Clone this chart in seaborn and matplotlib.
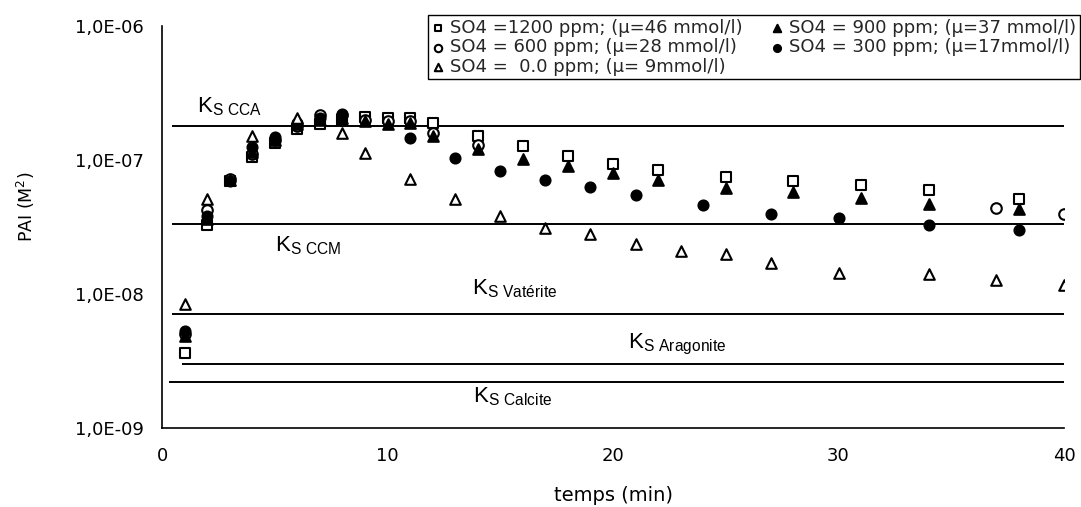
import numpy as np
import pandas as pd
import seaborn as sns
import matplotlib
matplotlib.use("Agg")
import matplotlib.pyplot as plt
from matplotlib.ticker import FixedLocator, FuncFormatter, LogLocator, NullFormatter

# ---------------- data ----------------
t_1200 = [1, 2, 3, 4, 5, 6, 7, 8, 9, 10, 11, 12, 14, 16, 18, 20, 22, 25, 28, 31, 34, 38]
v_1200 = [3.6e-9, 3.3e-8, 7.0e-8, 1.05e-7, 1.35e-7, 1.7e-7, 1.85e-7, 2.0e-7, 2.1e-7, 2.05e-7,
          2.05e-7, 1.9e-7, 1.5e-7, 1.27e-7, 1.07e-7, 9.3e-8, 8.4e-8, 7.5e-8, 7.0e-8, 6.5e-8,
          6.0e-8, 5.1e-8]

t_900 = [1, 2, 3, 4, 5, 6, 7, 8, 9, 10, 11, 12, 14, 16, 18, 20, 22, 25, 28, 31, 34, 38]
v_900 = [4.9e-9, 3.6e-8, 7.1e-8, 1.15e-7, 1.4e-7, 1.85e-7, 2.0e-7, 2.05e-7, 1.95e-7, 1.85e-7,
         1.9e-7, 1.5e-7, 1.2e-7, 1.02e-7, 9.0e-8, 8.0e-8, 7.1e-8, 6.2e-8, 5.8e-8, 5.2e-8,
         4.7e-8, 4.3e-8]

t_600 = [1, 2, 3, 4, 5, 6, 7, 8, 9, 10, 11, 12, 14, 37, 40]
v_600 = [5.0e-9, 4.2e-8, 7.2e-8, 1.1e-7, 1.42e-7, 1.8e-7, 2.15e-7, 2.15e-7, 2.0e-7, 1.95e-7,
         1.95e-7, 1.6e-7, 1.3e-7, 4.4e-8, 3.95e-8]

t_300 = [1, 2, 3, 4, 5, 6, 7, 8, 11, 13, 15, 17, 19, 21, 24, 27, 30, 34, 38]
v_300 = [5.3e-9, 3.8e-8, 7.0e-8, 1.25e-7, 1.48e-7, 1.9e-7, 2.05e-7, 2.2e-7, 1.45e-7, 1.04e-7,
         8.3e-8, 7.1e-8, 6.3e-8, 5.5e-8, 4.6e-8, 3.95e-8, 3.7e-8, 3.3e-8, 3.0e-8]

t_0 = [1, 2, 4, 6, 8, 9, 11, 13, 15, 17, 19, 21, 23, 25, 27, 30, 34, 37, 40]
v_0 = [8.4e-9, 5.1e-8, 1.5e-7, 2.05e-7, 1.6e-7, 1.13e-7, 7.2e-8, 5.1e-8, 3.8e-8, 3.1e-8,
       2.8e-8, 2.36e-8, 2.1e-8, 2.0e-8, 1.7e-8, 1.44e-8, 1.41e-8, 1.27e-8, 1.17e-8]

labels = {
    "1200": "SO4 =1200 ppm; (µ=46 mmol/l)",
    "600": "SO4 = 600 ppm; (µ=28 mmol/l)",
    "0": "SO4 =  0.0 ppm; (µ= 9mmol/l)",
    "900": "SO4 = 900 ppm; (µ=37 mmol/l)",
    "300": "SO4 = 300 ppm; (µ=17mmol/l)",
}

k_names = ["CCA", "CCM", "Vatérite", "Aragonite", "Calcite"]
k_values = [1.8e-7, 3.35e-8, 7.1e-9, 3.0e-9, 2.2e-9]
k_xstart = [0.45, 0.45, 0.45, 0.9, 0.3]
k_label_x = [1.55, 5.0, 13.75, 20.67, 13.8]
k_label_y = [2.25e-7, 2.09e-8, 1.0e-8, 3.95e-9, 1.54e-9]

y_ticks = [1e-9, 1e-8, 1e-7, 1e-6]
x_ticks = [0, 10, 20, 30, 40]

# ---------------- style ----------------
sns.set_style("white")
plt.rcParams["font.family"] = ["DejaVu Sans"]
plt.rcParams["mathtext.default"] = "regular"

fig = plt.figure(figsize=(10.81, 5.07), dpi=100)
ax = fig.add_axes([0.1499, 0.1558, 0.8344, 0.7929])

common = dict(ax=ax, linewidth=1.5, zorder=3)
sns.scatterplot(x=t_1200, y=v_1200, marker="s", s=50, facecolor="white",
                edgecolor="black", label=labels["1200"], **common)
sns.scatterplot(x=t_600, y=v_600, marker="o", s=58, facecolor="white",
                edgecolor="black", label=labels["600"], **common)
sns.scatterplot(x=t_900, y=v_900, marker="^", s=58, color="black",
                edgecolor="black", label=labels["900"], **common)
sns.scatterplot(x=t_300, y=v_300, marker="o", s=52, color="black",
                edgecolor="black", label=labels["300"], **common)
sns.scatterplot(x=t_0, y=v_0, marker="^", s=58, facecolor="white",
                edgecolor="black", label=labels["0"], **common)

# horizontal solubility lines
ax.hlines(k_values, k_xstart, 40.4, colors="black", linewidth=1.4, zorder=2)
for name, xx, yy in zip(k_names, k_label_x, k_label_y):
    ax.text(xx, yy, r"K$_{S\ %s}$" % name, fontsize=16, ha="left", va="baseline",
            color="black", family="Liberation Sans")

ax.set_yscale("log")
ax.set_ylim(1e-9, 1e-6)
ax.set_xlim(0, 40)

ax.yaxis.set_major_locator(FixedLocator(y_ticks))
ax.yaxis.set_major_formatter(FuncFormatter(
    lambda v, p: ("%.1fE%03d" % (1.0, int(round(np.log10(v))))).replace(".", ",")))
ax.yaxis.set_minor_locator(LogLocator(base=10, subs=np.arange(2, 10)))
ax.yaxis.set_minor_formatter(NullFormatter())
ax.xaxis.set_major_locator(FixedLocator(x_ticks))
ax.xaxis.set_minor_locator(FixedLocator([5, 15, 25, 35]))

ax.tick_params(axis="both", which="major", direction="inout", length=10, width=1,
               labelsize=13, color="black", labelcolor="black", pad=8)
ax.tick_params(axis="both", which="minor", direction="inout", length=7, width=0.8,
               color="black")
ax.tick_params(axis="x", which="major", pad=9)

for side in ["top", "right"]:
    ax.spines[side].set_visible(False)
for side in ["left", "bottom"]:
    ax.spines[side].set_color("black")
    ax.spines[side].set_linewidth(1.2)

ax.set_xlabel("temps (min)", fontsize=14, color="black")
ax.xaxis.set_label_coords(0.5, -0.145)
ax.set_ylabel("PAI (M$^{2}$)", fontsize=12.5, color="black")
ax.yaxis.set_label_coords(-0.151, 0.55)
ax.yaxis.label.set_va("center")

# legend order: column 1 -> 1200, 600, 0 ; column 2 -> 900, 300
handles, labs = ax.get_legend_handles_labels()
hmap = dict(zip(labs, handles))
order = [labels[k] for k in ["1200", "600", "0", "900", "300"]]
leg = ax.legend([hmap[l] for l in order], order, ncol=2, loc="upper right",
                bbox_to_anchor=(0.999, 0.970), bbox_transform=fig.transFigure,
                borderaxespad=0, fontsize=13,
                frameon=True, fancybox=False, framealpha=1, edgecolor="black",
                handlelength=0.7, handletextpad=0.3, columnspacing=1.6,
                labelspacing=0.08, borderpad=0.2, markerscale=0.7)
leg.get_frame().set_linewidth(1.0)

fig.savefig("out.png", dpi=100, facecolor="white")
